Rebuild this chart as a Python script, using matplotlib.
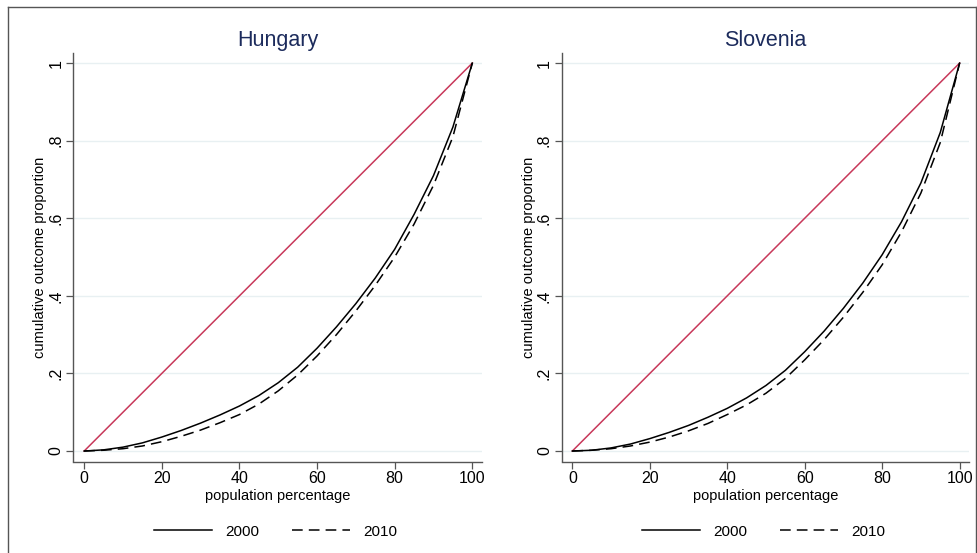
import matplotlib
matplotlib.use("Agg")
import matplotlib.pyplot as plt
from matplotlib.lines import Line2D

plt.rcParams['font.family'] = ['Liberation Sans', 'DejaVu Sans']

pop = [0, 5, 10, 15, 20, 25, 30, 35, 40, 45, 50, 55, 60, 65, 70, 75, 80, 85, 90, 95, 100]

hun_2000 = [0, .003, .010, .021, .036, .053, .072, .093, .116, .143, .176,
            .216, .265, .320, .380, .446, .520, .610, .710, .835, 1.0]
hun_2010 = [0, .002, .006, .013, .024, .038, .054, .073, .094, .121, .155,
            .196, .245, .300, .361, .427, .500, .585, .685, .810, 1.0]
slo_2000 = [0, .002, .008, .018, .032, .048, .066, .087, .110, .137, .169,
            .208, .256, .309, .368, .433, .506, .591, .691, .821, 1.0]
slo_2010 = [0, .002, .006, .013, .023, .036, .052, .071, .094, .119, .149,
            .187, .235, .287, .345, .409, .480, .565, .665, .795, 1.0]
equality_x = [0, 100]
equality_y = [0, 1]

countries = ["Hungary", "Slovenia"]
series = {"Hungary": (hun_2000, hun_2010), "Slovenia": (slo_2000, slo_2010)}
years = ["2000", "2010"]
xticks = [0, 20, 40, 60, 80, 100]
yticks = [0, 0.2, 0.4, 0.6, 0.8, 1.0]
ytick_labels = ["0", ".2", ".4", ".6", ".8", "1"]

W, H = 978, 553
fig = plt.figure(figsize=(W / 100, H / 100), dpi=100)
fig.patch.set_facecolor("white")

# outer frame
frame_col = "#555555"
fig.add_artist(Line2D([8 / W, 8 / W], [0, 1 - 7 / H], color=frame_col, lw=1.0, transform=fig.transFigure))
fig.add_artist(Line2D([8 / W, 976 / W], [1 - 7 / H, 1 - 7 / H], color=frame_col, lw=1.0, transform=fig.transFigure))
fig.add_artist(Line2D([976 / W, 976 / W], [0, 1 - 7 / H], color=frame_col, lw=1.0, transform=fig.transFigure))

lefts = [73.5, 561.7]
rights = [482, 969.3]
top, bottom = 53, 461.5

red = "#c8385a"
title_col = "#1c2b5c"
spine_col = "#555555"

for i, c in enumerate(countries):
    ax = fig.add_axes([lefts[i] / W, 1 - bottom / H, (rights[i] - lefts[i]) / W, (bottom - top) / H])
    ax.set_xlim(-2.75, 102.5)
    ax.set_ylim(-0.027, 1.026)
    for y in yticks:
        ax.axhline(y, color="#e8f0f2", lw=1.0, zorder=0)
    ax.plot(equality_x, equality_y, color=red, lw=1.1, zorder=2)
    s2000, s2010 = series[c]
    ax.plot(pop, s2000, color="black", lw=1.1, label=years[0], zorder=3)
    ax.plot(pop, s2010, color="black", lw=1.1, ls=(0, (7, 4)), label=years[1], zorder=3)

    for sp in ["top", "right"]:
        ax.spines[sp].set_visible(False)
    for sp in ["left", "bottom"]:
        ax.spines[sp].set_color(spine_col)
        ax.spines[sp].set_linewidth(1.0)
    ax.set_xticks(xticks)
    ax.set_xticklabels([str(t) for t in xticks], fontsize=11.5)
    ax.set_yticks(yticks)
    ax.set_yticklabels(ytick_labels, fontsize=11.5, rotation=90, va="center")
    ax.tick_params(axis="both", direction="out", length=5, width=0.9, color=spine_col, pad=2)
    ax.set_xlabel("population percentage", fontsize=10.5, labelpad=2)
    ax.set_ylabel("cumulative outcome proportion", fontsize=10.5, labelpad=1)
    ax.set_title(c, fontsize=15.5, color=title_col, pad=5)
    ax.legend(loc="center", bbox_to_anchor=(0.495, -0.172), ncol=2, frameon=False,
              fontsize=11, handlelength=3.8, handletextpad=0.9, columnspacing=2.1)

fig.savefig("out.png", dpi=100)
